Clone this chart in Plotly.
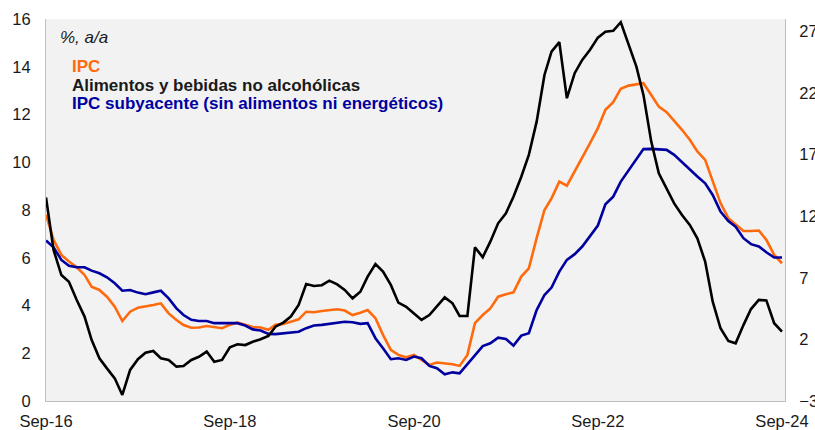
import pandas as pd
import plotly.graph_objects as go

# Monthly observations, Sep-2016 .. Sep-2024
months = pd.date_range("2016-09-01", "2024-09-01", freq="MS")

ipc = [7.8, 6.75, 6.12, 5.84, 5.6, 5.28, 4.79, 4.65, 4.37, 3.95,
       3.35, 3.74, 3.91, 3.95, 4.02, 4.09, 3.67, 3.39, 3.18, 3.07,
       3.08, 3.14, 3.1, 3.05, 3.19, 3.28, 3.19, 3.1, 3.08, 2.98,
       3.19, 3.23, 3.32, 3.42, 3.74, 3.72, 3.77, 3.81, 3.84, 3.79,
       3.6, 3.7, 3.81, 3.47, 2.77, 2.14, 1.93, 1.83, 1.93, 1.72,
       1.51, 1.61, 1.58, 1.54, 1.47, 1.93, 3.26, 3.6, 3.88, 4.37,
       4.47, 4.55, 5.21, 5.56, 6.82, 8.0, 8.49, 9.19, 9.02, 9.61,
       10.17, 10.8, 11.43, 12.2, 12.52, 13.08, 13.21, 13.27, 13.31, 12.82,
       12.33, 12.1, 11.74, 11.36, 10.94, 10.45, 10.1, 9.19, 8.29, 7.66,
       7.38, 7.12, 7.12, 7.14, 6.75, 6.12, 5.77]

alimentos = [13.52, 9.26, 7.22, 6.68, 5.2, 3.85, 1.96, 0.47, -0.35, -1.16,
             -2.51, -0.48, 0.39, 0.92, 1.06, 0.47, 0.33, -0.21, -0.16, 0.33,
             0.59, 1.01, 0.19, 0.33, 1.36, 1.6, 1.54, 1.81, 2.01, 2.28,
             3.03, 3.36, 3.85, 4.8, 6.5, 6.33, 6.4, 6.77, 6.46, 6.01,
             5.33, 5.87, 7.09, 8.12, 7.5, 6.42, 4.98, 4.65, 4.11, 3.58,
             3.98, 4.65, 5.41, 4.93, 3.9, 3.9, 9.47, 8.67, 9.93, 11.42,
             12.24, 13.58, 15.2, 16.97, 19.67, 23.46, 25.35, 26.12, 21.57, 23.6,
             24.68, 25.5, 26.49, 26.97, 27.04, 27.74, 26.01, 24.13, 21.84, 18.05,
             15.48, 14.26, 13.04, 12.09, 11.29, 10.2, 8.31, 5.06, 2.9, 1.87,
             1.68, 3.16, 4.46, 5.2, 5.16, 3.31, 2.63]

subyacente = [6.72, 6.44, 5.91, 5.66, 5.6, 5.6, 5.46, 5.35, 5.18, 4.93,
              4.62, 4.65, 4.54, 4.47, 4.55, 4.62, 4.3, 3.88, 3.6, 3.4,
              3.35, 3.35, 3.26, 3.26, 3.26, 3.26, 3.16, 3.0, 2.95, 2.81,
              2.8, 2.84, 2.88, 2.9, 3.05, 3.16, 3.19, 3.23, 3.29, 3.32,
              3.3, 3.23, 3.26, 2.63, 2.21, 1.75, 1.79, 1.72, 1.86, 1.79,
              1.47, 1.37, 1.12, 1.2, 1.16, 1.55, 1.93, 2.3, 2.42, 2.65,
              2.6, 2.32, 2.74, 2.84, 3.81, 4.44, 4.75, 5.42, 5.91, 6.15,
              6.47, 6.89, 7.35, 8.24, 8.56, 9.19, 9.65, 10.1, 10.55, 10.56,
              10.55, 10.52, 10.31, 9.99, 9.68, 9.4, 9.12, 8.63, 7.93, 7.54,
              7.3, 6.82, 6.57, 6.47, 6.23, 6.01, 6.01]

x_tick_dates = ["2016-09-01", "2018-09-01", "2020-09-01", "2022-09-01", "2024-09-01"]
x_tick_labels = ["Sep-16", "Sep-18", "Sep-20", "Sep-22", "Sep-24"]
left_ticks = [0, 2, 4, 6, 8, 10, 12, 14, 16]
right_ticks = [-3, 2, 7, 12, 17, 22, 27]

ORANGE = "#FF6A0D"
BLUE = "#0000A0"
BLACK = "#000000"
FONT = "Arial, Liberation Sans, sans-serif"

fig = go.Figure()
fig.add_trace(go.Scatter(x=months, y=ipc, mode="lines", name="IPC",
                         line=dict(color=ORANGE, width=2.6)))
fig.add_trace(go.Scatter(x=months, y=subyacente, mode="lines",
                         name="IPC subyacente (sin alimentos ni energéticos)",
                         line=dict(color=BLUE, width=2.6)))
fig.add_trace(go.Scatter(x=months, y=alimentos, mode="lines", yaxis="y2",
                         name="Alimentos y bebidas no alcohólicas",
                         line=dict(color=BLACK, width=2.6)))

axis_common = dict(showgrid=False, zeroline=False, showline=True,
                   linecolor="#BFBFBF", linewidth=1, ticks="", automargin=False,
                   tickfont=dict(family=FONT, size=16.5, color="#1a1a1a"))

fig.update_layout(
    width=815, height=430,
    margin=dict(l=46, r=30, t=19, b=29),
    paper_bgcolor="white", plot_bgcolor="#F2F2F2",
    showlegend=False,
    xaxis=dict(**axis_common, range=["2016-09-01", "2024-09-13"],
               tickvals=x_tick_dates, ticktext=x_tick_labels,
               ticklabelstandoff=5),
    yaxis=dict(**axis_common, range=[0, 16], tickvals=left_ticks,
               ticklabelstandoff=11),
    yaxis2=dict(**axis_common, range=[-3, 28], tickvals=right_ticks,
                overlaying="y", side="right", ticklabelstandoff=10),
)

def px_x(px):
    return (px - 46) / 739

def px_y(py):
    return (401 - py) / 382

notes = [
    ("<i>%, a/a</i>", 58, 38, "#1a1a1a"),
    ("<b>IPC</b>", 70, 66, ORANGE),
    ("<b>Alimentos y bebidas no alcohólicas</b>", 70, 85, "#1a1a1a"),
    ("<b>IPC subyacente (sin alimentos ni energéticos)</b>", 70, 103, BLUE),
]
for text, xp, yp, col in notes:
    fig.add_annotation(text=text, xref="paper", yref="paper",
                       x=px_x(xp), y=px_y(yp), xanchor="left", yanchor="middle",
                       showarrow=False,
                       font=dict(family=FONT, size=17, color=col))

# Remove the browser's default 8px page margin so the 815x430 figure fills the window.
fig.write_html("out.html",
               config={"displayModeBar": False},
               post_script="document.body.style.margin='0';document.body.style.overflow='hidden';")
